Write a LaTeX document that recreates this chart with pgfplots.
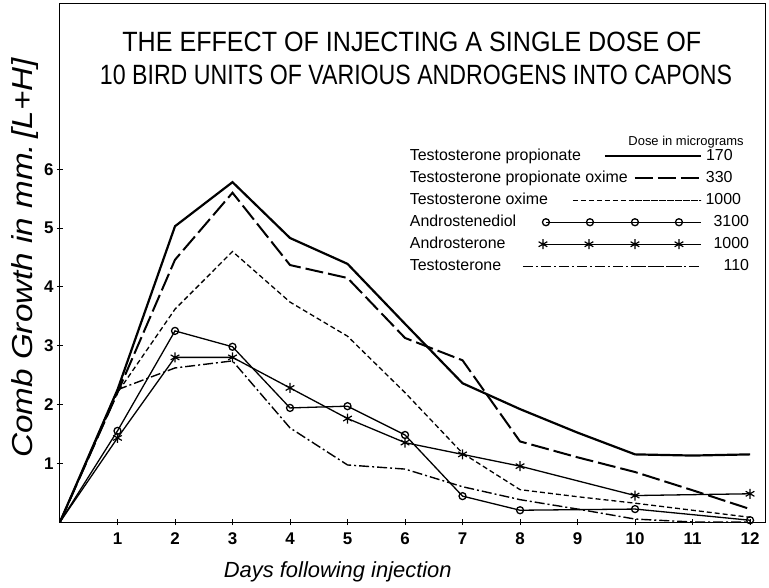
\documentclass[border=0pt]{standalone}
\usepackage{fontspec}
\setmainfont{Liberation Sans}
\usepackage{graphicx}
\usepackage{pgfplots}
\usepackage{pgfplotstable}
\pgfplotsset{compat=1.18}

% days, testosterone propionate, TP oxime, testosterone oxime, testosterone
\pgfplotstableread{
d   tp    tpo   to    t
0   0     0     0     0
1   2.25  2.2   2.2   2.25
2   5.03  4.46  3.62  2.62
3   5.78  5.6   4.6   2.74
4   4.83  4.37  3.74  1.6
5   4.39  4.15  3.16  0.97
6   3.37  3.13  2.2   0.9
7   2.36  2.75  1.17  0.6
8   1.92  1.37  0.55  0.38
9   1.52  1.1   0.43  0.22
10  1.15  0.85  0.32  0.05
11  1.13  0.54  0.2   0.0
12  1.15  0.22  0.08  0.0
}\tblA
% androstenediol
\pgfplotstableread{
d   v
0   0
1   1.55
2   3.25
3   2.98
4   1.94
5   1.97
6   1.48
7   0.44
8   0.2
10  0.22
12  0.03
}\tblB
% androsterone
\pgfplotstableread{
d   v
0   0
1   1.43
2   2.8
3   2.8
4   2.28
5   1.76
6   1.35
7   1.15
8   0.95
10  0.45
12  0.48
}\tblC

\pgfplotsset{
  legTP/.style={legend image code/.code={\path (0bp,0bp) -- (66bp,0bp); \draw[##1,overlay] (-30bp,0bp) -- (66bp,0bp); \node[anchor=west,inner sep=0pt,text height=11bp,text depth=3bp] at (70bp,0bp) {170};}},
  legTPO/.style={legend image code/.code={\path (0bp,0bp) -- (66bp,0bp); \draw[##1,overlay] (0bp,0bp) -- (66bp,0bp); \node[anchor=west,inner sep=0pt,text height=11bp,text depth=3bp] at (70bp,0bp) {330};}},
  legTO/.style={legend image code/.code={\path (0bp,0bp) -- (66bp,0bp); \draw[##1,overlay] (-62bp,0bp) -- (66bp,0bp); \node[anchor=west,inner sep=0pt,text height=11bp,text depth=3bp] at (70bp,0bp) {1000};}},
  legAD/.style={legend image code/.code={\path (0bp,0bp) -- (66bp,0bp); \draw[##1,overlay,mark repeat=1,mark phase=1] plot coordinates {(-89bp,0bp) (-45bp,0bp) (0bp,0bp) (44bp,0bp)}; \node[anchor=west,inner sep=0pt,text height=11bp,text depth=3bp] at (78bp,0bp) {3100};}},
  legAS/.style={legend image code/.code={\path (0bp,0bp) -- (66bp,0bp); \draw[##1,overlay,mark repeat=1,mark phase=1] plot coordinates {(-92bp,0bp) (-46bp,0bp) (0bp,0bp) (44bp,0bp)}; \node[anchor=west,inner sep=0pt,text height=11bp,text depth=3bp] at (78bp,0bp) {1000};}},
  legT/.style={legend image code/.code={\path (0bp,0bp) -- (66bp,0bp); \draw[##1,overlay] (-112bp,0bp) -- (48bp,0bp); \node[anchor=west,inner sep=0pt,text height=11bp,text depth=3bp] at (88bp,0bp) {110};}},
}

\begin{document}
\begin{tikzpicture}
\begin{axis}[
  scale only axis, width=705bp, height=518bp,
  xmin=0, xmax=12.26, ymin=0, ymax=8.81,
  axis line style={line width=1bp},
  tick pos=left, tick align=center, major tick length=6bp,
  tick style={line width=1bp, black},
  xtick={1,...,12}, ytick={1,...,6},
  tick label style={font=\fontsize{17}{19}\selectfont\bfseries},
  /pgf/number format/assume math mode=true,
  xticklabel style={yshift=-4bp},
  xlabel={\fontsize{22}{24}\selectfont\itshape Days following injection},
  ylabel={\scalebox{1.15}[1]{\fontsize{29}{32}\selectfont\itshape Comb Growth in mm.\,[L+H]}},
  every axis x label/.style={at={(axis description cs:0.394,-0.097)}, anchor=center},
  every axis y label/.style={at={(axis description cs:-0.05,0.51)}, anchor=center, rotate=90},
  legend plot pos=right,
  legend cell align=left,
  legend style={at={(axis description cs:0.496,0.720)}, anchor=north west,
    draw=none, fill=none, inner sep=0pt, row sep=8bp, column sep=6bp,
    font=\fontsize{16}{18}\selectfont,
    nodes={inner sep=0pt, text height=11bp, text depth=3bp}},
]
\addplot[black, line width=2.2bp, legTP] table[x=d,y=tp]{\tblA};
\addlegendentry{Testosterone propionate}
\addplot[black, line width=2bp, dash pattern=on 18bp off 5bp, legTPO] table[x=d,y=tpo]{\tblA};
\addlegendentry{Testosterone propionate oxime}
\addplot[black, line width=1.3bp, dash pattern=on 5bp off 3bp, legTO] table[x=d,y=to]{\tblA};
\addlegendentry{Testosterone oxime}
\addplot[black, line width=1.3bp, mark=o, mark size=3.5bp, mark phase=2,
  mark options={solid, fill=white, line width=1.3bp}, legAD] table[x=d,y=v]{\tblB};
\addlegendentry{Androstenediol}
\addplot[black, line width=1.3bp, mark=asterisk, mark size=5bp, mark phase=2,
  mark options={solid, line width=1.2bp}, legAS] table[x=d,y=v]{\tblC};
\addlegendentry{Androsterone}
\addplot[black, line width=1.4bp, dash pattern=on 10bp off 3bp on 2bp off 3bp, legT] table[x=d,y=t]{\tblA};
\addlegendentry{Testosterone}

\node[anchor=center] at (axis description cs:0.499,0.927)
  {\scalebox{0.90}[1]{\fontsize{28}{30}\selectfont THE EFFECT OF INJECTING A SINGLE DOSE OF}};
\node[anchor=center] at (axis description cs:0.505,0.863)
  {\scalebox{0.83}[1]{\fontsize{28}{30}\selectfont 10 BIRD UNITS OF VARIOUS ANDROGENS INTO CAPONS}};
\node[anchor=center] at (axis description cs:0.888,0.734)
  {\fontsize{13}{15}\selectfont Dose in micrograms};
\end{axis}
\pgfresetboundingbox
\path[use as bounding box] (current axis.south west) ++(-60bp,-66bp) rectangle ++(769bp,588bp);
\end{tikzpicture}
\end{document}
